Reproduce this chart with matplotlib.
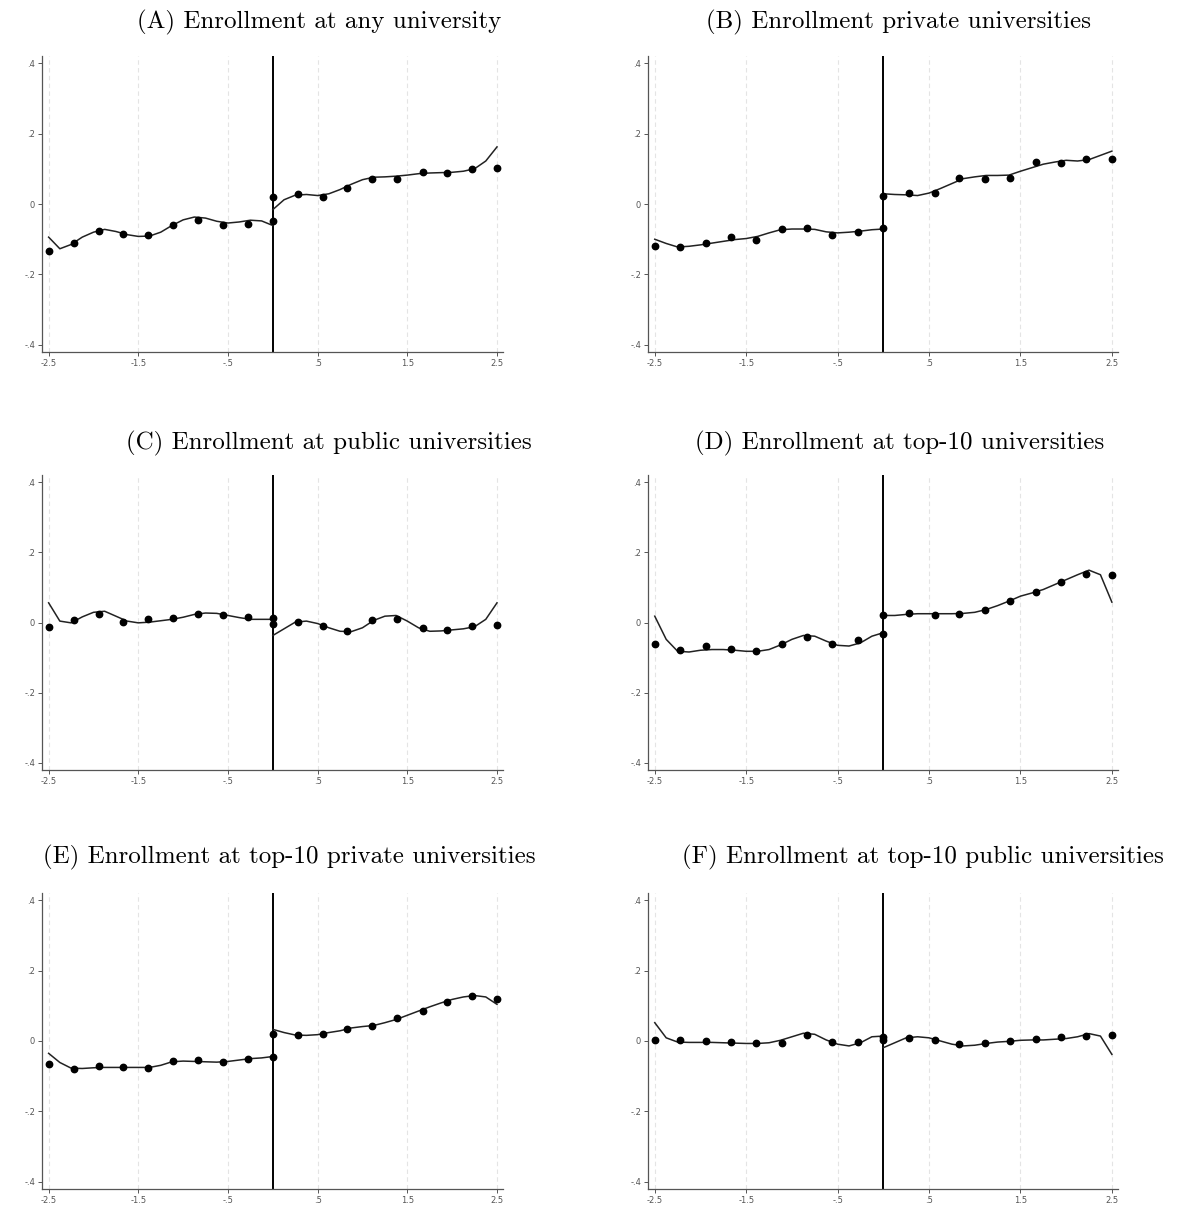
import numpy as np
import matplotlib
matplotlib.use("Agg")
import matplotlib.pyplot as plt

# bin centres (10 bins each side of the cutoff)
bins_left = [-2.5, -2.22, -1.94, -1.67, -1.39, -1.11, -0.83, -0.56, -0.28, 0.0]
bins_right = [0.0, 0.28, 0.56, 0.83, 1.11, 1.39, 1.67, 1.94, 2.22, 2.5]
# x grid where the fitted curve was read
fit_left = np.linspace(-2.5, 0, 21)
fit_right = np.linspace(0, 2.5, 21)

xticks = [-2.5, -1.5, -0.5, 0.5, 1.5, 2.5]
xtick_labels = ["-2.5", "-1.5", "-.5", ".5", "1.5", "2.5"]
yticks = [-0.4, -0.2, 0.0, 0.2, 0.4]
ytick_labels = ["-.4", "-.2", "0", ".2", ".4"]

titles = ["(A) Enrollment at any university",
          "(B) Enrollment private universities",
          "(C) Enrollment at public universities",
          "(D) Enrollment at top-10 universities",
          "(E) Enrollment at top-10 private universities",
          "(F) Enrollment at top-10 public universities"]

# (A) any university
a_pts_left = [-0.134, -0.110, -0.076, -0.085, -0.089, -0.061, -0.046, -0.061, -0.056, -0.047]
a_pts_right = [0.020, 0.029, 0.020, 0.045, 0.071, 0.071, 0.090, 0.087, 0.100, 0.102]
a_fit_left = [-0.094, -0.127, -0.115, -0.094, -0.080, -0.072, -0.078, -0.087, -0.092, -0.091, -0.080,
              -0.061, -0.045, -0.037, -0.040, -0.049, -0.054, -0.051, -0.046, -0.048, -0.061]
a_fit_right = [-0.016, 0.012, 0.025, 0.027, 0.024, 0.029, 0.041, 0.056, 0.069, 0.076, 0.077,
               0.079, 0.082, 0.086, 0.088, 0.089, 0.090, 0.093, 0.100, 0.122, 0.162]

# (B) private universities
b_pts_left = [-0.118, -0.121, -0.111, -0.094, -0.101, -0.071, -0.068, -0.088, -0.079, -0.069]
b_pts_right = [0.023, 0.031, 0.030, 0.074, 0.070, 0.074, 0.118, 0.115, 0.129, 0.127]
b_fit_left = [-0.100, -0.112, -0.122, -0.120, -0.116, -0.111, -0.106, -0.101, -0.098, -0.092, -0.082,
              -0.073, -0.071, -0.071, -0.072, -0.079, -0.082, -0.080, -0.077, -0.073, -0.071]
b_fit_right = [0.029, 0.027, 0.026, 0.024, 0.031, 0.044, 0.058, 0.072, 0.077, 0.081, 0.081,
               0.082, 0.093, 0.103, 0.113, 0.119, 0.124, 0.122, 0.126, 0.138, 0.150]

# (C) public universities
c_pts_left = [-0.012, 0.008, 0.025, 0.002, 0.009, 0.013, 0.025, 0.020, 0.017, 0.014]
c_pts_right = [-0.005, 0.002, -0.009, -0.024, 0.006, 0.010, -0.017, -0.020, -0.010, -0.008]
c_fit_left = [0.056, 0.004, -0.001, 0.016, 0.029, 0.032, 0.018, 0.004, -0.001, 0.001, 0.005,
              0.009, 0.015, 0.023, 0.027, 0.026, 0.020, 0.014, 0.009, 0.009, 0.009]
c_fit_right = [-0.037, -0.018, 0.001, 0.004, -0.003, -0.015, -0.025, -0.026, -0.015, 0.006, 0.018,
               0.020, 0.004, -0.015, -0.025, -0.024, -0.021, -0.018, -0.012, 0.009, 0.056]

# (D) top-10 universities
d_pts_left = [-0.061, -0.077, -0.068, -0.075, -0.082, -0.061, -0.041, -0.061, -0.051, -0.032]
d_pts_right = [0.020, 0.026, 0.022, 0.025, 0.035, 0.061, 0.086, 0.116, 0.137, 0.136]
d_fit_left = [0.018, -0.048, -0.082, -0.084, -0.079, -0.077, -0.077, -0.079, -0.082, -0.082, -0.077,
              -0.064, -0.048, -0.037, -0.039, -0.053, -0.065, -0.067, -0.058, -0.039, -0.029]
d_fit_right = [0.020, 0.020, 0.023, 0.025, 0.025, 0.025, 0.025, 0.026, 0.029, 0.037, 0.048,
               0.061, 0.075, 0.084, 0.094, 0.108, 0.122, 0.136, 0.149, 0.136, 0.058]

# (E) top-10 private universities
e_pts_left = [-0.066, -0.080, -0.071, -0.074, -0.076, -0.057, -0.055, -0.059, -0.050, -0.044]
e_pts_right = [0.019, 0.017, 0.021, 0.035, 0.042, 0.064, 0.086, 0.110, 0.127, 0.118]
e_fit_left = [-0.035, -0.061, -0.077, -0.078, -0.076, -0.075, -0.075, -0.075, -0.075, -0.075, -0.069,
              -0.059, -0.057, -0.058, -0.059, -0.060, -0.058, -0.054, -0.050, -0.048, -0.044]
e_fit_right = [0.033, 0.024, 0.017, 0.016, 0.018, 0.024, 0.029, 0.037, 0.041, 0.044, 0.052,
               0.061, 0.073, 0.085, 0.097, 0.108, 0.118, 0.125, 0.129, 0.125, 0.104]

# (F) top-10 public universities
f_pts_left = [0.003, 0.002, 0.000, -0.004, -0.006, -0.005, 0.016, -0.003, -0.002, 0.012]
f_pts_right = [0.002, 0.009, 0.002, -0.009, -0.005, -0.001, 0.006, 0.010, 0.013, 0.017]
f_fit_left = [0.052, 0.009, -0.003, -0.004, -0.004, -0.004, -0.005, -0.006, -0.007, -0.007, -0.005,
              0.002, 0.012, 0.022, 0.019, 0.003, -0.009, -0.014, -0.005, 0.012, 0.014]
f_fit_right = [-0.019, -0.005, 0.009, 0.012, 0.009, 0.000, -0.009, -0.014, -0.012, -0.007, -0.003,
               -0.001, 0.002, 0.003, 0.003, 0.005, 0.007, 0.012, 0.021, 0.014, -0.038]

panels = [
    (a_pts_left, a_pts_right, a_fit_left, a_fit_right),
    (b_pts_left, b_pts_right, b_fit_left, b_fit_right),
    (c_pts_left, c_pts_right, c_fit_left, c_fit_right),
    (d_pts_left, d_pts_right, d_fit_left, d_fit_right),
    (e_pts_left, e_pts_right, e_fit_left, e_fit_right),
    (f_pts_left, f_pts_right, f_fit_left, f_fit_right),
]

W, H = 1179, 1209
fig = plt.figure(figsize=(W / 100, H / 100), dpi=100)

# axes boxes in pixels: left, top, right, bottom
col_x = [(42, 503), (648, 1118)]
row_y = [(56, 352), (475, 770), (893, 1189)]
title_x = [319, 899, 329, 900, 289, 923]
title_y = [22, 443, 857]

for i, (p_left, p_right, c_left, c_right) in enumerate(panels):
    r, c = divmod(i, 2)
    x0, x1 = col_x[c]
    y0, y1 = row_y[r]
    ax = fig.add_axes([x0 / W, 1 - y1 / H, (x1 - x0) / W, (y1 - y0) / H])

    ax.axvline(0, color="black", lw=1.4, zorder=2)
    ax.plot(fit_left, c_left, color="#222222", lw=1.1, zorder=3)
    ax.plot(fit_right, c_right, color="#222222", lw=1.1, zorder=3)
    ax.plot(bins_left, p_left, "o", color="black", ms=4.6, zorder=4)
    ax.plot(bins_right, p_right, "o", color="black", ms=4.6, zorder=4)

    ax.set_xlim(-2.574, 2.567)
    ax.set_ylim(-0.42, 0.42)
    ax.set_xticks(xticks)
    ax.set_xticklabels(xtick_labels)
    ax.set_yticks(yticks)
    ax.set_yticklabels(ytick_labels)
    ax.xaxis.grid(True, color="#e4e4e4", linestyle=(0, (4, 3)), lw=0.8)
    ax.set_axisbelow(True)

    ax.spines['top'].set_visible(False)
    ax.spines['right'].set_visible(False)
    ax.spines['left'].set_color("#555555")
    ax.spines['bottom'].set_color("#555555")
    ax.spines['left'].set_linewidth(0.9)
    ax.spines['bottom'].set_linewidth(0.9)
    ax.tick_params(axis='both', colors="#555555", labelsize=6, length=3, width=0.7, pad=2)

    fig.text(title_x[i] / W, 1 - title_y[r] / H, titles[i], ha="center", va="center",
             fontsize=18, family="cmr10")

fig.savefig("out.png", dpi=100)
